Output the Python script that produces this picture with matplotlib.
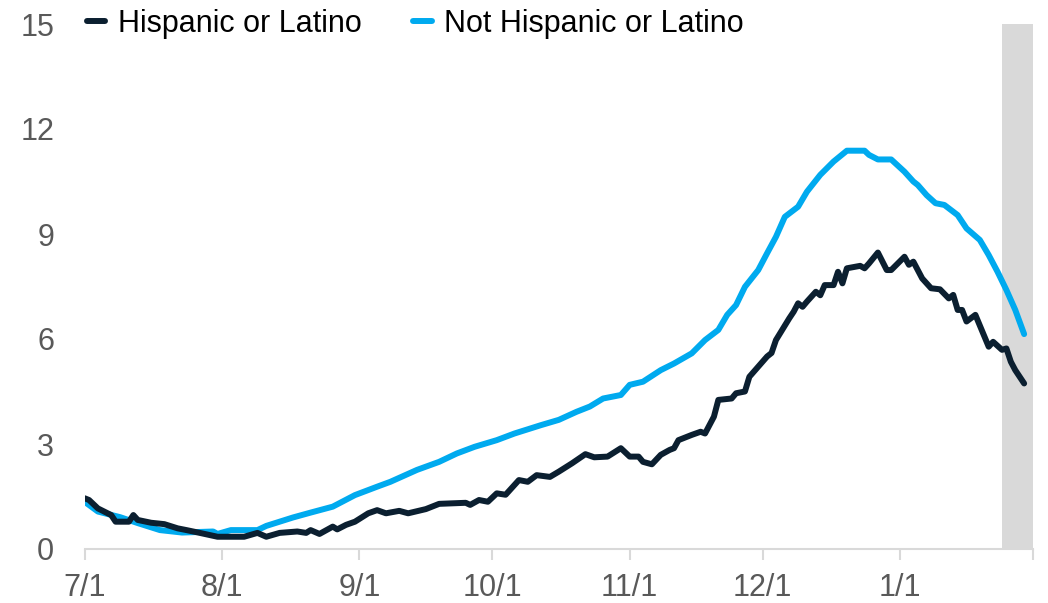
import matplotlib
matplotlib.use("Agg")
import matplotlib.pyplot as plt
import pandas as pd

plt.rcParams['font.family'] = ['Liberation Sans', 'DejaVu Sans']

start = pd.Timestamp('2020-07-01')
end = pd.Timestamp('2021-01-31')
shade_from = pd.Timestamp('2021-01-24')

# days after 7/1 and values
hisp_days = [0, 1, 3, 6, 7, 10, 11, 12, 15, 18, 21, 23, 26, 30, 36, 39, 41, 44, 48, 50,
             51, 53, 56, 57, 59, 61, 64, 66, 68, 71, 73, 77, 80, 86, 87, 89, 91, 93, 95, 97,
             98, 100, 102, 105, 107, 110, 113, 115, 118, 121, 123, 125, 126, 128, 130, 132, 133, 134, 137, 139,
             140, 142, 143, 146, 147, 149, 150, 152, 154, 155, 156, 159, 160, 161, 162, 163, 165, 166, 167, 169,
             170, 171, 172, 175, 176, 177, 179, 181, 182, 185, 186, 187, 189, 191, 193, 195, 196, 197, 198, 199,
             201, 204, 205, 207, 208, 209, 210, 212]
hisp_vals = [1.45, 1.40, 1.16, 0.97, 0.78, 0.78, 0.97, 0.83, 0.75, 0.71, 0.59, 0.54, 0.46, 0.35, 0.35, 0.46, 0.35, 0.46, 0.50, 0.46,
             0.54, 0.43, 0.64, 0.56, 0.69, 0.78, 1.02, 1.11, 1.02, 1.09, 1.02, 1.14, 1.29, 1.32, 1.26, 1.40, 1.35, 1.59, 1.55, 1.83,
             1.97, 1.92, 2.11, 2.06, 2.21, 2.45, 2.71, 2.62, 2.64, 2.88, 2.64, 2.64, 2.49, 2.42, 2.69, 2.83, 2.88, 3.11, 3.26, 3.35,
             3.30, 3.78, 4.26, 4.30, 4.45, 4.50, 4.92, 5.21, 5.50, 5.60, 5.97, 6.59, 6.78, 7.02, 6.92, 7.07, 7.35, 7.25, 7.54, 7.54,
             7.92, 7.59, 8.02, 8.09, 8.02, 8.16, 8.47, 7.97, 7.97, 8.35, 8.12, 8.21, 7.73, 7.45, 7.42, 7.16, 7.26, 6.83, 6.83, 6.50,
             6.69, 5.78, 5.92, 5.69, 5.73, 5.35, 5.11, 4.73]

not_days = [0, 3, 8, 12, 17, 22, 29, 30, 33, 39, 41, 47, 51, 56, 61, 66, 69, 75, 80, 84,
            88, 93, 97, 103, 107, 111, 114, 117, 121, 123, 126, 130, 133, 137, 140, 143, 145, 147, 149, 152,
            154, 156, 158, 161, 163, 166, 169, 172, 176, 177, 179, 182, 185, 187, 188, 190, 192, 194, 197, 199,
            202, 204, 206, 208, 210, 212]
not_vals = [1.35, 1.07, 0.91, 0.74, 0.54, 0.47, 0.50, 0.43, 0.54, 0.54, 0.66, 0.90, 1.04, 1.21, 1.54, 1.78, 1.92, 2.26, 2.49, 2.73,
            2.92, 3.11, 3.30, 3.54, 3.69, 3.92, 4.07, 4.30, 4.40, 4.69, 4.78, 5.11, 5.30, 5.59, 5.97, 6.26, 6.69, 6.97, 7.49, 7.97,
            8.45, 8.92, 9.49, 9.78, 10.21, 10.69, 11.07, 11.38, 11.38, 11.26, 11.13, 11.13, 10.78, 10.50, 10.40, 10.11, 9.88, 9.83, 9.54, 9.16,
            8.83, 8.40, 7.92, 7.40, 6.83, 6.14]

tick_labels = ['7/1', '8/1', '9/1', '10/1', '11/1', '12/1', '1/1']
month_starts = pd.date_range(start, end, freq='MS')

DARK = '#0b1f30'
BLUE = '#00aaef'
GREY = '#d9d9d9'

fig = plt.figure(figsize=(10.48, 6.03), dpi=100)
ax = fig.add_axes([84.6 / 1048, 1 - 549 / 603, (1033 - 84.6) / 1048, (549 - 24) / 603])

x_end = (end - start).days
ax.axvspan((shade_from - start).days, x_end, color=GREY, lw=0, zorder=0)

ax.plot(hisp_days, hisp_vals, color=DARK, lw=4.3, label='Hispanic or Latino',
        solid_joinstyle='round', solid_capstyle='round', zorder=3)
ax.plot(not_days, not_vals, color=BLUE, lw=4.3, label='Not Hispanic or Latino',
        solid_joinstyle='round', solid_capstyle='round', zorder=2)

ax.set_xlim(0, x_end)
ax.set_ylim(0, 15)

xt = [(d - start).days for d in month_starts] + [x_end]
ax.set_xticks(xt)
ax.set_xticklabels(tick_labels + [''])
ax.set_yticks(range(0, 16, 3))

for s in ['top', 'right', 'left']:
    ax.spines[s].set_visible(False)
ax.spines['bottom'].set_color(GREY)
ax.spines['bottom'].set_linewidth(1.5)
ax.tick_params(axis='x', colors=GREY, length=8, width=1.5, pad=9,
               labelcolor='#595959', labelsize=22)
ax.tick_params(axis='y', length=0, pad=22, labelcolor='#595959', labelsize=22)

handles, labels = ax.get_legend_handles_labels()
leg = fig.legend(handles, labels, loc='center left',
                 bbox_to_anchor=(87 / 1048, 1 - 24 / 603), ncol=2, frameon=False,
                 fontsize=22, handlelength=0.6, handletextpad=0.4, columnspacing=1.7,
                 borderpad=0, borderaxespad=0)
for h in leg.get_lines():
    h.set_linewidth(4.3)
    h.set_solid_capstyle('round')

fig.savefig('out.png', dpi=100)
